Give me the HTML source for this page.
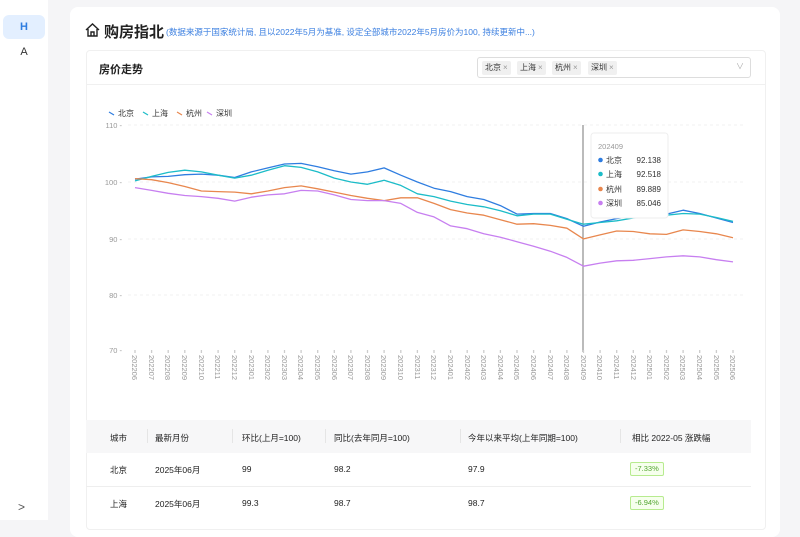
<!DOCTYPE html>
<html><head><meta charset="utf-8"><style>
*{margin:0;padding:0;box-sizing:border-box}
body{width:800px;height:520px;overflow:hidden;background:#f5f5f7;font-family:"Liberation Sans","Noto Sans CJK SC",sans-serif;position:relative;color:#222}
.side{position:absolute;left:0;top:0;width:48px;height:520px;background:#fff}
.hb{position:absolute;left:3px;top:15px;width:42px;height:24px;background:#e3efff;border-radius:6px;color:#2f7de0;font-size:11px;text-align:center;line-height:24px;font-weight:bold}
.ab{position:absolute;left:0;top:46px;width:48px;text-align:center;font-size:11px;color:#333}
.gt{position:absolute;left:18px;top:500px;font-size:12px;color:#555}
.card{position:absolute;left:70px;top:7px;width:710px;height:530px;background:#fff;border-radius:8px}
.t{position:absolute;left:85px;top:21px;font-size:15px;font-weight:bold;color:#222}
.sub{position:absolute;left:166px;top:26px;font-size:8.5px;color:#3b7fe0}
.inner{position:absolute;left:86px;top:50px;width:680px;height:480px;border:1px solid #f0f0f0;border-radius:4px;background:#fff}
.ht{position:absolute;left:99px;top:61px;font-size:11px;font-weight:bold;color:#222}
.hl{position:absolute;left:86px;top:84px;width:680px;height:1px;background:#f0f0f0}
.sel{position:absolute;left:477px;top:57px;width:274px;height:21px;border:1px solid #ddd;border-radius:3px;background:#fff}
.tag{position:absolute;top:3px;height:14px;background:#f0f0f0;border-radius:2px;font-size:8px;line-height:14px;padding:0 3px;color:#333}
.tag i{font-style:normal;color:#999;margin-left:2px}
.th{position:absolute;left:86px;top:420px;width:665px;height:33px;background:#f7f7f8}
.c{position:absolute;font-size:8.5px;color:#222}
.rl{position:absolute;left:86px;top:486px;width:665px;height:1px;background:#eee}
.bd{position:absolute;height:14px;border:1px solid #b7eb8f;background:#f6ffed;color:#52a530;font-size:7.5px;line-height:12px;padding:0 4px;border-radius:2px}
.vs{position:absolute;top:429px;width:1px;height:14px;background:#e5e5e5}
</style></head><body>
<div class="side"><div class="hb">H</div><div class="ab">A</div><div class="gt">&gt;</div></div>
<div class="card"></div>
<svg style="position:absolute;left:84px;top:22px" width="17" height="16" viewBox="0 0 17 16"><path d="M2 8 L8.5 2 L15 8 M4 7 V14 H13 V7 M7 14 V10 H10 V14" fill="none" stroke="#222" stroke-width="1.4"/></svg>
<div class="t" style="left:104px">购房指北</div>
<div class="sub">(数据来源于国家统计局, 且以2022年5月为基准, 设定全部城市2022年5月房价为100, 持续更新中...)</div>
<div class="inner"></div>
<div class="ht">房价走势</div>
<div class="hl"></div>
<div class="sel">
<span class="tag" style="left:4px">北京<i>×</i></span>
<span class="tag" style="left:39px">上海<i>×</i></span>
<span class="tag" style="left:74px">杭州<i>×</i></span>
<span class="tag" style="left:110px">深圳<i>×</i></span>
<span style="position:absolute;right:6px;top:3px;font-size:8px;color:#aaa">∨</span>
</div>
<svg id="ch" style="position:absolute;left:0;top:0" width="800" height="400">
<g font-size="7.5" fill="#999" text-anchor="end">
<text x="122" y="128">110 -</text><text x="122" y="185">100 -</text><text x="122" y="242">90 -</text><text x="122" y="298">80 -</text><text x="122" y="353">70 -</text>
</g>
<g stroke="#f2f2f2" stroke-dasharray="3 3"><line x1="128" x2="745" y1="125" y2="125"/><line x1="128" x2="745" y1="182" y2="182"/><line x1="128" x2="745" y1="239" y2="239"/><line x1="128" x2="745" y1="295" y2="295"/></g>
<g font-size="8" fill="#333">
<text x="118" y="116">北京</text><text x="152" y="116">上海</text><text x="186" y="116">杭州</text><text x="216" y="116">深圳</text></g>
<g stroke-width="1.2"><line x1="109" y1="112" x2="114" y2="115" stroke="#2f7de0"/><line x1="143" y1="112" x2="148" y2="115" stroke="#1cbcc8"/><line x1="177" y1="112" x2="182" y2="115" stroke="#e8874e"/><line x1="207" y1="112" x2="212" y2="115" stroke="#c77ff0"/></g>
<line x1="583" y1="125" x2="583" y2="352" stroke="#777" stroke-width="1"/>
<g id="lines" fill="none" stroke-width="1.3"></g>
<g id="ticks" font-size="7.5" fill="#999">
<text transform="translate(132,355) rotate(90)">202206</text><text transform="translate(149,355) rotate(90)">202207</text><text transform="translate(165,355) rotate(90)">202208</text><text transform="translate(182,355) rotate(90)">202209</text><text transform="translate(199,355) rotate(90)">202210</text><text transform="translate(215,355) rotate(90)">202211</text><text transform="translate(232,355) rotate(90)">202212</text><text transform="translate(249,355) rotate(90)">202301</text><text transform="translate(265,355) rotate(90)">202302</text><text transform="translate(282,355) rotate(90)">202303</text><text transform="translate(298,355) rotate(90)">202304</text><text transform="translate(315,355) rotate(90)">202305</text><text transform="translate(332,355) rotate(90)">202306</text><text transform="translate(348,355) rotate(90)">202307</text><text transform="translate(365,355) rotate(90)">202308</text><text transform="translate(381,355) rotate(90)">202309</text><text transform="translate(398,355) rotate(90)">202310</text><text transform="translate(415,355) rotate(90)">202311</text><text transform="translate(431,355) rotate(90)">202312</text><text transform="translate(448,355) rotate(90)">202401</text><text transform="translate(465,355) rotate(90)">202402</text><text transform="translate(481,355) rotate(90)">202403</text><text transform="translate(498,355) rotate(90)">202404</text><text transform="translate(514,355) rotate(90)">202405</text><text transform="translate(531,355) rotate(90)">202406</text><text transform="translate(548,355) rotate(90)">202407</text><text transform="translate(564,355) rotate(90)">202408</text><text transform="translate(581,355) rotate(90)">202409</text><text transform="translate(597,355) rotate(90)">202410</text><text transform="translate(614,355) rotate(90)">202411</text><text transform="translate(631,355) rotate(90)">202412</text><text transform="translate(647,355) rotate(90)">202501</text><text transform="translate(664,355) rotate(90)">202502</text><text transform="translate(680,355) rotate(90)">202503</text><text transform="translate(697,355) rotate(90)">202504</text><text transform="translate(714,355) rotate(90)">202505</text><text transform="translate(730,355) rotate(90)">202506</text>
</g>
<g transform="translate(591,133)">
<rect x="0" y="0" width="77" height="85" rx="3" fill="#fff" stroke="#eee"/>
<text x="7" y="16" font-size="7.5" fill="#999">202409</text>
<g font-size="8" fill="#333">
<circle cx="9.5" cy="27" r="2.3" fill="#2f7de0"/><text x="15" y="30">北京</text><text x="70" y="30" text-anchor="end">92.138</text>
<circle cx="9.5" cy="41" r="2.3" fill="#1cbcc8"/><text x="15" y="44">上海</text><text x="70" y="44" text-anchor="end">92.518</text>
<circle cx="9.5" cy="56" r="2.3" fill="#e8874e"/><text x="15" y="59">杭州</text><text x="70" y="59" text-anchor="end">89.889</text>
<circle cx="9.5" cy="70" r="2.3" fill="#c77ff0"/><text x="15" y="73">深圳</text><text x="70" y="73" text-anchor="end">85.046</text>
</g></g>
</svg>
<div class="th"></div>
<div class="c" style="left:110px;top:432px">城市</div>
<div class="c" style="left:155px;top:432px">最新月份</div>
<div class="c" style="left:242px;top:432px">环比(上月=100)</div>
<div class="c" style="left:334px;top:432px">同比(去年同月=100)</div>
<div class="c" style="left:468px;top:432px">今年以来平均(上年同期=100)</div>
<div class="c" style="left:632px;top:432px">相比 2022-05 涨跌幅</div>
<div class="vs" style="left:147px"></div><div class="vs" style="left:232px"></div><div class="vs" style="left:325px"></div><div class="vs" style="left:460px"></div><div class="vs" style="left:620px"></div>
<div class="c" style="left:110px;top:464px">北京</div><div class="c" style="left:155px;top:464px">2025年06月</div><div class="c" style="left:242px;top:464px">99</div><div class="c" style="left:334px;top:464px">98.2</div><div class="c" style="left:468px;top:464px">97.9</div>
<div class="bd" style="left:630px;top:462px">-7.33%</div>
<div class="rl"></div>
<div class="c" style="left:110px;top:498px">上海</div><div class="c" style="left:155px;top:498px">2025年06月</div><div class="c" style="left:242px;top:498px">99.3</div><div class="c" style="left:334px;top:498px">98.7</div><div class="c" style="left:468px;top:498px">98.7</div>
<div class="bd" style="left:630px;top:496px">-6.94%</div>
<script>
var D={"#2f7de0":[100.5,100.9,101,101.3,101.4,101.2,100.8,101.8,102.5,103.2,103.3,102.7,102,101.4,101.8,102.5,101.2,100,98.9,98.3,97.4,96.9,95.8,94.3,94.4,94.4,93.5,92.14,92.9,93.5,94,94.5,94.3,95,94.4,93.6,92.8],
"#1cbcc8":[100.2,101,101.7,102.1,101.8,101.2,100.7,101.2,102.1,102.9,102.6,101.8,100.7,100,99.6,100.3,99.4,97.9,97.4,96.6,96,95.6,94.9,94,94.3,94.3,93.4,92.5,92.8,93.1,93.6,93.8,94.1,94.4,94.3,93.7,93.0],
"#e8874e":[100.6,100.4,99.9,99.2,98.4,98.3,98.2,97.9,98.4,99,99.3,98.8,98.2,97.6,97.1,96.7,97.2,97.2,96.2,95.1,94.5,94.1,93.3,92.5,92.6,92.3,91.8,89.9,90.6,91.3,91.2,90.8,90.7,91.5,91.2,90.8,90.1],
"#c77ff0":[99,98.5,98,97.6,97.4,97.1,96.6,97.3,97.7,97.9,98.5,98.4,97.7,96.9,96.7,96.7,96.2,94.6,93.8,92.2,91.7,90.8,90.2,89.4,88.6,87.7,86.6,85.05,85.6,86,86.1,86.4,86.7,86.9,86.7,86.2,85.8]};
var g=document.getElementById('lines'),s="";
for(var k in D){var p=D[k].map(function(v,i){return (135+i*16.61).toFixed(1)+","+(182-(v-100)*5.63).toFixed(1)}).join(" ");
s+='<polyline stroke="'+k+'" points="'+p+'" stroke-linejoin="round"/>';}
var t="";for(var i=0;i<37;i++){var x=(135+i*16.61).toFixed(1);t+='<line x1="'+x+'" x2="'+x+'" y1="350" y2="353" stroke="#ccc"/>';}
g.innerHTML=s+t;
</script>
</body></html>
